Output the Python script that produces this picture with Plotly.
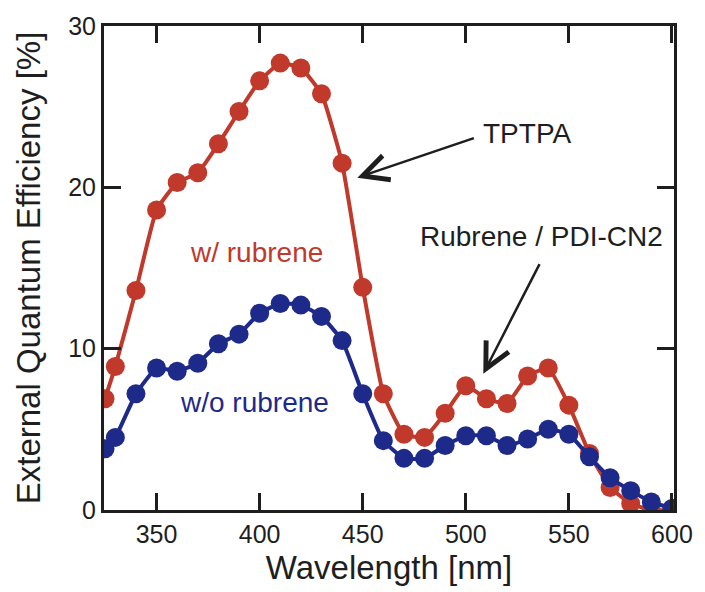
import plotly.graph_objects as go

wavelength = [325, 330, 340, 350, 360, 370, 380, 390, 400, 410, 420, 430, 440, 450,
              460, 470, 480, 490, 500, 510, 520, 530, 540, 550, 560, 570, 580, 590, 600]
eqe_with_rubrene = [6.9, 8.9, 13.6, 18.6, 20.3, 20.9, 22.7, 24.7, 26.6, 27.7, 27.4, 25.8, 21.5, 13.8,
                    7.2, 4.7, 4.5, 6.0, 7.7, 6.9, 6.6, 8.3, 8.8, 6.5, 3.5, 1.4, 0.4, 0.0, 0.0]
eqe_without_rubrene = [3.8, 4.5, 7.2, 8.8, 8.6, 9.1, 10.3, 10.9, 12.2, 12.8, 12.7, 12.0, 10.5, 7.2,
                       4.3, 3.2, 3.2, 4.0, 4.6, 4.6, 4.0, 4.4, 5.0, 4.7, 3.3, 2.0, 1.2, 0.5, 0.1]
x_ticks = [350, 400, 450, 500, 550, 600]
y_ticks = [0, 10, 20, 30]

RED = "#c0392a"
BLUE = "#1d2a8a"
INK = "#1e1e1e"
FONT = "Liberation Sans, Arial, sans-serif"

fig = go.Figure()
fig.add_trace(go.Scatter(x=wavelength, y=eqe_with_rubrene, mode="lines+markers",
                         line=dict(color=RED, width=4, shape="spline", smoothing=0.4),
                         marker=dict(color=RED, size=19), name="w/ rubrene"))
fig.add_trace(go.Scatter(x=wavelength, y=eqe_without_rubrene, mode="lines+markers",
                         line=dict(color=BLUE, width=4, shape="spline", smoothing=0.4),
                         marker=dict(color=BLUE, size=19), name="w/o rubrene"))

axis_common = dict(showline=True, linewidth=3, linecolor=INK, mirror="ticks",
                   ticks="inside", ticklen=17, tickwidth=3, tickcolor=INK,
                   showgrid=False, zeroline=False,
                   tickfont=dict(family=FONT, size=25, color=INK))

fig.update_xaxes(range=[324.5, 601], tickvals=x_ticks,
                 title=dict(text="Wavelength [nm]", font=dict(family=FONT, size=33, color=INK),
                            standoff=9),
                 **axis_common)
fig.update_yaxes(range=[0, 30], tickvals=y_ticks,
                 title=dict(text="External Quantum Efficiency [%]",
                            font=dict(family=FONT, size=33, color=INK), standoff=18),
                 **axis_common)

annots = [
    dict(x=529.5, y=23.35, text="TPTPA", showarrow=False, font=dict(family=FONT, size=28, color=INK)),
    dict(x=536.6, y=16.96, text="Rubrene / PDI-CN2", showarrow=False, font=dict(family=FONT, size=28, color=INK)),
    dict(x=398.7, y=15.96, text="w/ rubrene", showarrow=False, font=dict(family=FONT, size=28, color=RED)),
    dict(x=397.7, y=6.65, text="w/o rubrene", showarrow=False, font=dict(family=FONT, size=28, color=BLUE)),
    dict(x=447.4, y=20.6, ax=118, ay=-40, text="", showarrow=True, arrowhead=5, arrowsize=2,
         arrowwidth=2.5, arrowcolor=INK),
    dict(x=508.5, y=8.45, ax=57, ay=-111, text="", showarrow=True, arrowhead=5, arrowsize=2,
         arrowwidth=2.5, arrowcolor=INK),
]
for a in annots:
    fig.add_annotation(**a)

fig.update_layout(width=705, height=592, margin=dict(l=104, r=23, t=25, b=82),
                  paper_bgcolor="white", plot_bgcolor="white", showlegend=False)

fig.write_html("out.html")
